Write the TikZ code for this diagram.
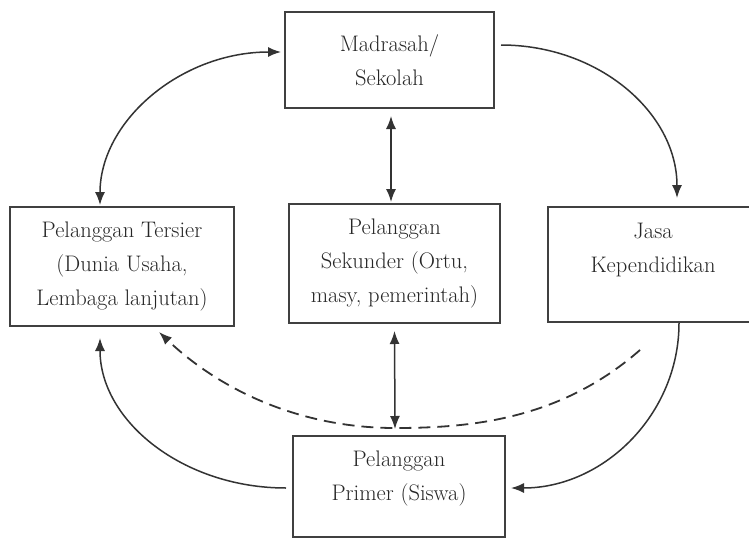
\documentclass[tikz,border=0pt]{standalone}
\usetikzlibrary{arrows.meta}
\definecolor{ink}{HTML}{333333}
\definecolor{boxline}{HTML}{404040}
\definecolor{txt}{HTML}{262626}
\begin{document}
\begin{tikzpicture}[x=1pt,y=-1pt,
  box/.style={draw=boxline, line width=2pt, rectangle, align=center, text=txt,
    font=\fontsize{22.5}{34}\selectfont, inner sep=0pt},
  conn/.style={draw=ink, line width=1.5pt},
  tip/.style={-{Latex[length=13pt,width=10pt]}},
  tips/.style={{Latex[length=13pt,width=10pt]}-{Latex[length=13pt,width=10pt]}},
  dashconn/.style={draw=ink, line width=1.8pt, dash pattern=on 12pt off 7pt}]
\useasboundingbox[fill=white] (0,0) rectangle (749,538);

\node[box, minimum width=209pt, minimum height=96pt] (mad) at (389.5,60) {Madrasah/\\Sekolah};
\node[box, minimum width=224pt, minimum height=119pt] (ter) at (122,266.5) {Pelanggan Tersier\\(Dunia Usaha,\\Lembaga lanjutan)};
\node[box, minimum width=211pt, minimum height=119pt] (sek) at (394.5,263.5) {Pelanggan\\Sekunder (Ortu,\\masy, pemerintah)};
\node[box, minimum width=210pt, minimum height=115pt] (jasa) at (653,264.5) {Jasa\\Kependidikan\\\mbox{}};
\node[box, minimum width=212pt, minimum height=101pt] (prim) at (399,486.5) {Pelanggan\\Primer (Siswa)\\[-12pt]\mbox{}};

\coordinate (dstart) at (640,350);

% Madrasah <-> Tersier
\draw[conn, tips] ([xshift=-22pt,yshift=1pt]ter.north) .. controls +(0,-84) and +(-100,0) .. ([xshift=-3pt,yshift=8pt]mad.west);
% Madrasah -> Jasa
\draw[conn, tip] ([xshift=6pt,yshift=15pt]mad.east) .. controls +(98,0) and +(0,-85) .. ([xshift=24pt,yshift=8pt]jasa.north);
% Madrasah <-> Sekunder
\draw[conn, tips] ([xshift=1.5pt,yshift=-7pt]mad.south) -- ([xshift=-3.5pt,yshift=1pt]sek.north);
% Sekunder <-> Primer
\draw[conn, tips] ([yshift=-7pt]sek.south) -- ([xshift=-4pt,yshift=6pt]prim.north);
% Primer -> Tersier
\draw[conn, tip] ([xshift=-6pt,yshift=-1.5pt]prim.west) .. controls +(-103,0) and +(0,83) .. ([xshift=-22pt,yshift=-11pt]ter.south);
% Jasa -> Primer
\draw[conn, tip] ([xshift=26pt]jasa.south) .. controls +(0,91) and +(93,0) .. ([xshift=5pt,yshift=-1.5pt]prim.east);
% dashed Jasa -> Tersier
\draw[dashconn, tip] (dstart) .. controls (560,420) and (470,428) .. (395,428) .. controls (300,428) and (220,390) .. ([xshift=-76pt,yshift=-5pt]ter.south east);
\end{tikzpicture}
\end{document}
